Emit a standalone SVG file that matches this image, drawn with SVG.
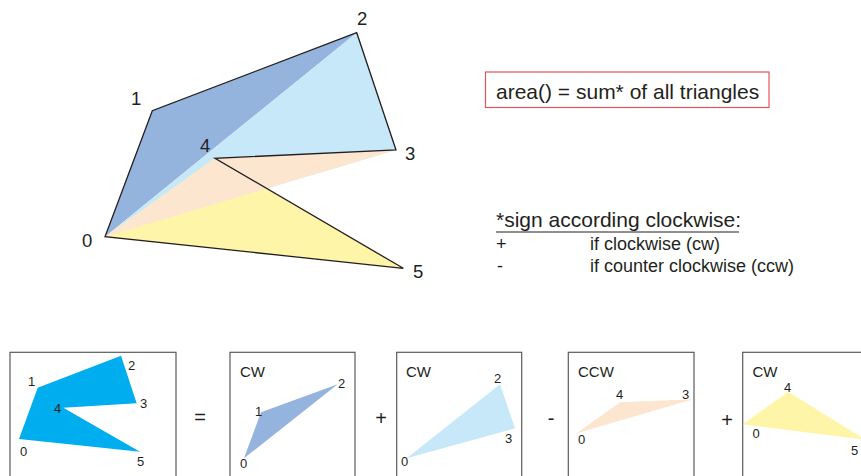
<svg xmlns="http://www.w3.org/2000/svg" width="861" height="476" viewBox="0 0 861 476">
<style>
text{font-family:"Liberation Sans",Arial,sans-serif;fill:#231f20}
.big{font-size:18.5px}
.sm{font-size:13px}
.hd{font-size:15px}
.op{font-size:20px}
.box{fill:none;stroke:#5a5a5a;stroke-width:1.2}
.t1{fill:#94b4de}.t2{fill:#c6e8f8}.t3{fill:#fde6d0}.t4{fill:#fef5a8}
</style>
<rect width="861" height="476" fill="#fff"/>
<g id="main">
<polygon class="t1" points="105,236.7 152.3,110.7 356.7,32.7"/>
<polygon class="t2" points="105,236.7 356.7,32.7 396,150"/>
<polygon class="t4" points="105,236.7 215,158.3 403.3,268.3"/>
<polygon class="t3" points="105,236.7 396,150 215,158.3"/>
<polygon points="105,236.7 152.3,110.7 356.7,32.7 396,150 215,158.3 403.3,268.3" fill="none" stroke="#231f20" stroke-width="1.3" stroke-linejoin="miter"/>
<text class="big" x="82" y="247">0</text>
<text class="big" x="131" y="105">1</text>
<text class="big" x="357" y="25">2</text>
<text class="big" x="405" y="160">3</text>
<text class="big" x="200" y="152">4</text>
<text class="big" x="413" y="278">5</text>
</g>
<g id="formula">
<rect x="485.5" y="72" width="283.5" height="35.5" fill="#fff" stroke="#e8525c" stroke-width="1.2"/>
<text x="496" y="98.5" font-size="21">area() = sum* of all triangles</text>
</g>
<g id="legend">
<text x="496" y="226.7" font-size="21">*sign according clockwise:</text>
<line x1="496" y1="232" x2="739" y2="232" stroke="#231f20" stroke-width="1.2"/>
<text x="496" y="250" font-size="18">+</text>
<text x="590" y="250" font-size="18">if clockwise (cw)</text>
<text x="497" y="272" font-size="18">-</text>
<text x="590" y="272" font-size="18">if counter clockwise (ccw)</text>
</g>
<g id="panel-polygon">
<rect class="box" x="10" y="352.3" width="166" height="140"/>
<polygon points="19,439 37.7,387.7 121,355.7 136.7,403.3 63.3,407.7 140,451.7" fill="#00aeef"/>
<text class="sm" x="20" y="456">0</text>
<text class="sm" x="28" y="386">1</text>
<text class="sm" x="128" y="370">2</text>
<text class="sm" x="140" y="408">3</text>
<text class="sm" x="54" y="413">4</text>
<text class="sm" x="137" y="466">5</text>
</g>
<g id="op-eq"><text class="op" x="200" y="424" text-anchor="middle">=</text></g>
<g id="panel-012">
<rect class="box" x="230" y="352.3" width="125" height="140"/>
<text class="hd" x="240" y="377">CW</text>
<polygon class="t1" points="244,458.3 261,412.3 337.7,384.3"/>
<text class="sm" x="240" y="468">0</text>
<text class="sm" x="255" y="416">1</text>
<text class="sm" x="338" y="388">2</text>
</g>
<g id="op-plus1"><text class="op" x="381" y="425" text-anchor="middle">+</text></g>
<g id="panel-023">
<rect class="box" x="396.7" y="352.3" width="125" height="140"/>
<text class="hd" x="406" y="377">CW</text>
<polygon class="t2" points="406.7,458.3 500,384.3 515,428.3"/>
<text class="sm" x="401" y="466">0</text>
<text class="sm" x="494" y="383">2</text>
<text class="sm" x="505" y="443">3</text>
</g>
<g id="op-minus"><text class="op" x="551" y="425" text-anchor="middle">-</text></g>
<g id="panel-043">
<rect class="box" x="568.3" y="352.3" width="125.7" height="140"/>
<text class="hd" x="578" y="377">CCW</text>
<polygon class="t3" points="576.7,433.3 620,402.3 693.3,399.3"/>
<text class="sm" x="578" y="444">0</text>
<text class="sm" x="616" y="399">4</text>
<text class="sm" x="682" y="399">3</text>
</g>
<g id="op-plus2"><text class="op" x="727" y="427" text-anchor="middle">+</text></g>
<g id="panel-045">
<rect class="box" x="742.7" y="352.3" width="140" height="140"/>
<text class="hd" x="752.5" y="377">CW</text>
<polygon class="t4" points="742.7,424.3 788.3,391.7 866,440"/>
<text class="sm" x="752.5" y="438">0</text>
<text class="sm" x="784" y="391.7">4</text>
<text class="sm" x="851" y="455">5</text>
</g>
</svg>
